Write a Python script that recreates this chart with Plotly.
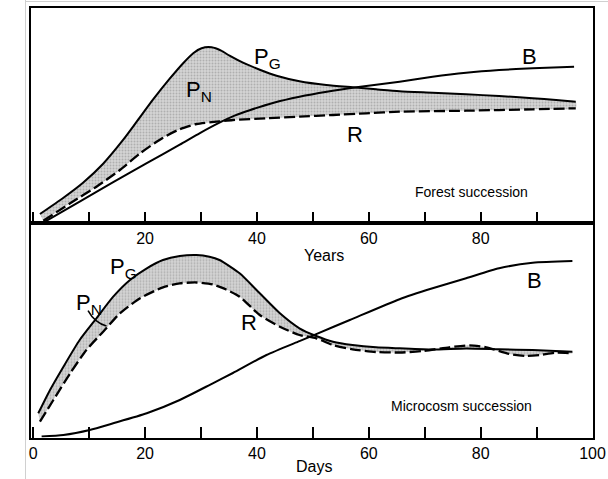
import plotly.graph_objects as go

# ---------------- data (relative units) ----------------
# Forest succession (x: years)
forest_pg_x = [1.2, 5.4, 8.9, 12.5, 16.1, 18.5, 21.4, 24.4, 26.8, 28.6, 30.1, 31.9, 33.6, 35.1,
               37.5, 40.5, 43.5, 47.6, 52.4, 57.1, 61.3, 65.5, 71.4, 77.4, 83.3, 89.3, 93.5, 97.0]
forest_pg_y = [8.7, 25, 40, 59, 83, 101, 123, 144, 159.5, 169.5, 174.5, 175.4, 172, 167,
               160, 153, 147, 141.5, 137.7, 135.4, 133.4, 131.5, 130, 128.4, 126.7, 124.4, 122.7, 121]
forest_r_x = [1.8, 6.6, 11.3, 15.5, 19.1, 23.2, 26.2, 29.2, 32.8, 35.7, 41.7, 47.6, 53.6, 59.5,
              65.5, 77.4, 89.3, 97.0]
forest_r_y = [2, 19.4, 36, 52.7, 69.4, 85, 93.5, 98.7, 101, 102.7, 104.4, 106, 107.7, 109.4,
              111, 112, 113.4, 114.4]
forest_b_x = [2.1, 8.3, 14.3, 20.3, 26.2, 29.8, 33.3, 36.0, 38.7, 43.0, 47.6, 52.5, 57.8, 65.5,
              71.4, 77.4, 83.3, 89.3, 96.7]
forest_b_y = [1, 21, 40.5, 59.5, 78, 89.6, 100, 107, 112.5, 120, 126, 131, 135.4, 141,
              146, 150, 152.7, 154.4, 156]

# Microcosm succession (x: days)
micro_pg_x = [0.9, 3.0, 5.4, 8.3, 11.3, 14.3, 17.3, 20.3, 23.2, 26.2, 29.2, 31.5, 33.3, 36.9,
              40.5, 44.1, 47.6, 50.6, 53.6, 57.1, 61.3, 65.5, 71.4, 77.4, 83.3, 89.3, 96.4]
micro_pg_y = [24.2, 47.5, 70.8, 97.5, 119.2, 140.8, 157.5, 169.2, 177.5, 181.5, 182.5, 180.8, 177.5, 164.2,
              144.2, 124.2, 109.2, 101.5, 95.8, 92.5, 90.2, 89.2, 88, 89, 88.2, 87.5, 85.8]
micro_r_x = [1.2, 3.6, 6.6, 9.5, 12.5, 15.5, 19.1, 23.2, 26.2, 29.2, 32.1, 34.5, 36.9, 40.5, 44.1,
             47.6, 50.6, 53.6, 57.1, 61.3, 65.5, 69.6, 74.4, 78.0, 81.0, 85.1, 88.1, 90.5, 93.5, 96.4]
micro_r_y = [15.8, 37.5, 64.2, 87.5, 105.8, 124.2, 139.2, 150.2, 154.2, 155, 153, 148, 140.8, 122.5, 110.8,
             102.5, 99.2, 92.5, 88.2, 85.5, 85, 86.5, 90.2, 92.2, 90.2, 83.5, 81.5, 82.5, 84.8, 84.2]
micro_b_x = [1.5, 5.4, 10.1, 14.3, 20.3, 26.2, 32.1, 35.7, 41.7, 47.6, 50.6, 56.6, 65.5, 71.4,
             77.4, 83.3, 89.3, 96.4]
micro_b_y = [1, 2.5, 7.5, 14.2, 24.2, 37.5, 54.2, 64.5, 82.5, 96.4, 103.4, 117.5, 138.3, 149.2,
             159.2, 169.2, 174.8, 176.5]

top_tickvals = [20, 40, 60, 80]
top_ticktext = ["20", "40", "60", "80"]
bot_tickvals = [0, 20, 40, 60, 80, 100]
bot_ticktext = ["0", "20", "40", "60", "80", "100"]

# ---------------- styling ----------------
W, H = 608, 479
FONT = "Liberation Sans, Arial, sans-serif"
LW = 2.0
DASH = "11px,4px"
SHADE = "#c6c6c6"

fig = go.Figure()


def add_panel(pg_x, pg_y, r_x, r_y, b_x, b_y, xa, ya):
    # stippled P_N area between P_G and R
    fig.add_trace(go.Scatter(
        x=pg_x + r_x[::-1], y=pg_y + r_y[::-1], xaxis=xa, yaxis=ya,
        mode="lines", fill="toself", line=dict(width=0, shape="spline", smoothing=0.6),
        fillcolor=SHADE,
        fillpattern=dict(shape=".", fgcolor="#8a8a8a", bgcolor="#d4d4d4", size=3, solidity=0.35),
        hoverinfo="skip", showlegend=False))
    fig.add_trace(go.Scatter(x=r_x, y=r_y, xaxis=xa, yaxis=ya, mode="lines",
                             line=dict(color="black", width=LW + 0.3, dash=DASH, shape="spline", smoothing=0.6),
                             showlegend=False))
    fig.add_trace(go.Scatter(x=pg_x, y=pg_y, xaxis=xa, yaxis=ya, mode="lines",
                             line=dict(color="black", width=LW, shape="spline", smoothing=0.6),
                             showlegend=False))
    fig.add_trace(go.Scatter(x=b_x, y=b_y, xaxis=xa, yaxis=ya, mode="lines",
                             line=dict(color="black", width=LW, shape="spline", smoothing=0.6),
                             showlegend=False))


add_panel(forest_pg_x, forest_pg_y, forest_r_x, forest_r_y, forest_b_x, forest_b_y, "x", "y")
add_panel(micro_pg_x, micro_pg_y, micro_r_x, micro_r_y, micro_b_x, micro_b_y, "x2", "y2")

xdom = [31 / W, 592.7 / W]
top_dom = [1 - 222.7 / H, 1 - 8 / H]
bot_dom = [1 - 437.5 / H, 1 - 222.7 / H]
XR = [-0.4, 100.03]

axis_common = dict(showline=True, linecolor="black", linewidth=2, mirror=True,
                   showgrid=False, zeroline=False, automargin=False)
minor_ticks = dict(ticks="inside", ticklen=11, tickwidth=1.6, tickcolor="black",
                   tickmode="linear", tick0=0, dtick=10, showgrid=False)

fig.update_layout(
    width=W, height=H, autosize=False,
    margin=dict(l=0, r=0, t=0, b=0, pad=0, autoexpand=False),
    paper_bgcolor="white", plot_bgcolor="white",
    font=dict(family=FONT, color="black"),
    xaxis=dict(domain=xdom, range=XR, anchor="y",
               tickmode="array", tickvals=top_tickvals, ticktext=top_ticktext,
               ticks="inside", ticklen=11, tickwidth=1.6, tickcolor="black",
               minor=minor_ticks,
               tickfont=dict(size=16, family=FONT, color="black"), **axis_common),
    yaxis=dict(domain=top_dom, range=[0, 214.7], anchor="x",
               showticklabels=False, ticks="", **axis_common),
    xaxis2=dict(domain=xdom, range=XR, anchor="y2",
                tickmode="array", tickvals=bot_tickvals, ticktext=bot_ticktext,
                ticks="inside", ticklen=11, tickwidth=1.6, tickcolor="black",
                minor=minor_ticks,
                tickfont=dict(size=16, family=FONT, color="black"), **axis_common),
    yaxis2=dict(domain=bot_dom, range=[0, 214.8], anchor="x2",
                showticklabels=False, ticks="", **axis_common),
)

ann = []


def label(text, x, y, xref, yref, size=22):
    ann.append(dict(text=text, x=x, y=y, xref=xref, yref=yref, showarrow=False,
                    xanchor="center", yanchor="middle",
                    font=dict(size=size, family=FONT, color="black")))


# top panel labels
label("P<sub>G</sub>", 41.9, 164.7, "x", "y")
label("P<sub>N</sub>", 29.6, 131.7, "x", "y")
label("B", 88.7, 166.2, "x", "y")
label("R", 57.5, 88.7, "x", "y")
label("Forest succession", 78.3, 30.7, "x", "y", size=14)
# bottom panel labels
label("P<sub>G</sub>", 16.1, 169.5, "x2", "y2")
label("P<sub>N</sub>", 10.0, 134, "x2", "y2")
label("R", 38.5, 115.2, "x2", "y2")
label("B", 89.6, 157.5, "x2", "y2")
label("Microcosm succession", 76.6, 31.7, "x2", "y2", size=14)
# axis titles
label("Years", 324 / W, 1 - 256 / H, "paper", "paper", size=16)
label("Days", 314 / W, 1 - 466 / H, "paper", "paper", size=16)

fig.update_layout(annotations=ann)

fig.update_layout(shapes=[
    # P_N leader hook (bottom panel)
    dict(type="path", xref="x2", yref="y2", path="M 9.8,126.8 Q 11.0,114.5 13.1,111.5",
         line=dict(color="black", width=1.6)),
    # scan page edges
    dict(type="line", xref="paper", yref="paper", x0=25.5 / W, x1=25.5 / W, y0=0, y1=1,
         line=dict(color="#d0d0d0", width=1)),
    dict(type="line", xref="paper", yref="paper", x0=25.5 / W, x1=1, y0=1 - 1.5 / H, y1=1 - 1.5 / H,
         line=dict(color="#d0d0d0", width=1)),
])

fig.write_html("out.html")
